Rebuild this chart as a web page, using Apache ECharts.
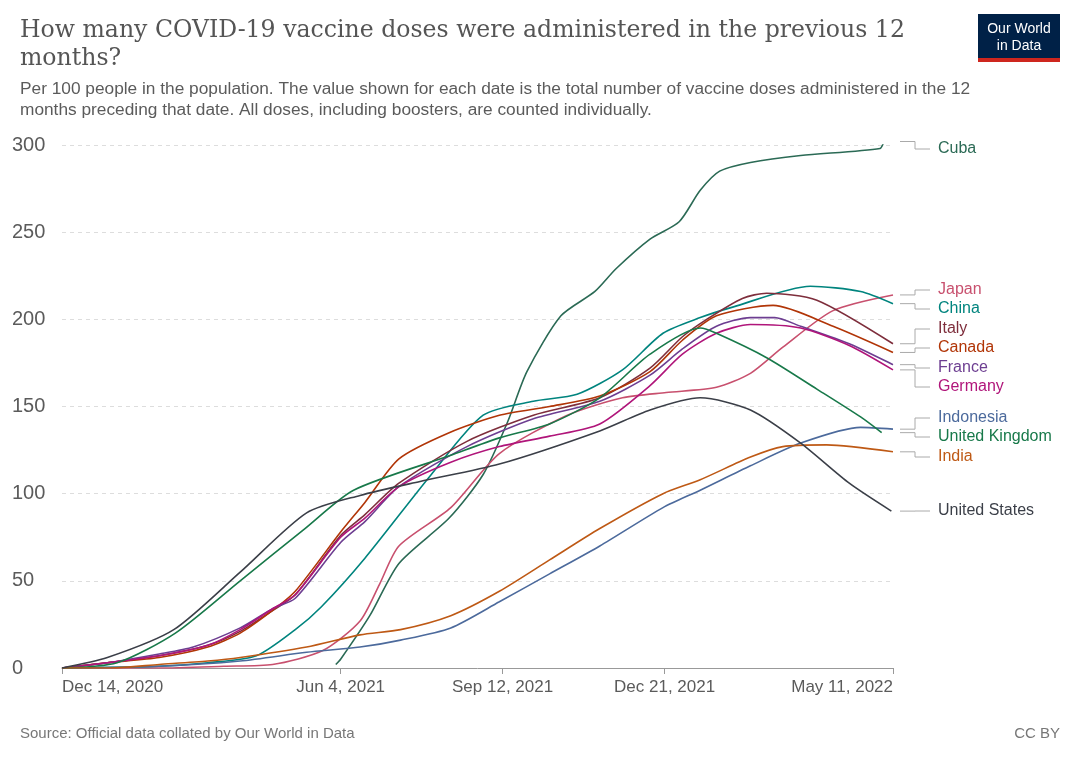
<!DOCTYPE html>
<html>
<head>
<meta charset="utf-8">
<script src="https://cdn.jsdelivr.net/npm/echarts@6/dist/echarts.min.js"></script>
<style>
  html, body { margin: 0; padding: 0; background: #fff; }
  #chart { width: 1080px; height: 762px; }
</style>
</head>
<body>
<div id="chart"></div>
<script>
// days since Dec 14, 2020 -> doses per 100 people in preceding 12 months
const countries = [
  { name: 'Cuba', color: '#2b6a55', labelY: 149, data: [[169,2],[172,5],[190,30],[208,60],[239,86],[260,111],[275,141],[287,170],[308,202],[329,216],[342,229],[363,246],[381,256],[394,274],[406,285],[425,290],[456,294],[505,298],[508,302],[513,302]] },
  { name: 'Japan', color: '#c8506e', labelY: 290, data: [[0,0],[60,0],[100,1],[130,2],[161,10],[184,27],[196,48],[208,70],[240,92],[270,123],[312,145],[346,155],[373,158],[404,161],[425,169],[445,184],[476,205],[513,214]] },
  { name: 'China', color: '#00847e', labelY: 309, data: [[0,0],[60,1],[90,3],[120,7],[144,22],[160,35],[187,63],[228,111],[260,145],[291,153],[318,157],[346,171],[371,192],[394,201],[414,207],[462,219],[493,216],[513,209]] },
  { name: 'Italy', color: '#7e2e3c', labelY: 329, data: [[0,0],[28,3],[60,7],[90,13],[110,21],[130,33],[144,42],[172,76],[187,88],[208,106],[250,130],[291,145],[332,155],[363,172],[383,190],[398,200],[420,212],[435,215],[466,211],[513,186]] },
  { name: 'Canada', color: '#b13507', labelY: 348, data: [[0,0],[28,3],[60,6],[90,12],[110,20],[130,33],[144,44],[172,78],[187,95],[208,120],[239,135],[270,145],[301,150],[332,156],[363,170],[383,188],[404,202],[439,208],[476,196],[513,181]] },
  { name: 'France', color: '#6d3e91', labelY: 368, data: [[0,0],[28,3],[60,8],[81,12],[110,23],[130,34],[144,40],[172,72],[187,84],[208,104],[250,127],[291,143],[332,153],[363,168],[383,183],[404,196],[425,201],[440,201],[456,196],[486,186],[513,174]] },
  { name: 'Germany', color: '#b0157a', labelY: 387, data: [[0,0],[28,3],[60,7],[90,13],[110,22],[130,34],[144,42],[172,75],[187,86],[208,104],[240,118],[270,127],[301,133],[332,140],[363,162],[383,180],[404,192],[425,197],[456,195],[486,185],[513,171]] },
  { name: 'Indonesia', color: '#4c6a9c', labelY: 418, data: [[0,0],[60,1],[110,4],[151,9],[184,12],[209,16],[240,23],[270,38],[301,54],[332,70],[371,92],[394,102],[425,116],[456,129],[493,138],[513,137]] },
  { name: 'United Kingdom', color: '#18794a', labelY: 437, data: [[0,0],[34,3],[70,20],[110,50],[150,80],[180,102],[240,122],[270,132],[301,140],[332,155],[363,180],[394,195],[404,192],[435,178],[466,160],[493,144],[506,135]] },
  { name: 'India', color: '#be5915', labelY: 457, data: [[0,0],[30,0],[60,2],[90,4],[110,6],[151,12],[184,19],[209,22],[240,30],[270,44],[301,62],[332,80],[371,100],[394,108],[425,121],[445,127],[472,128],[513,124]] },
  { name: 'United States', color: '#3b3f48', labelY: 511, data: [[0,0],[28,6],[69,22],[110,55],[151,89],[184,99],[221,107],[270,117],[332,136],[363,148],[394,155],[425,148],[456,129],[486,106],[512,90]] }
];
const tickDays = { 0: 'Dec 14, 2020', 172: 'Jun 4, 2021', 272: 'Sep 12, 2021', 372: 'Dec 21, 2021', 513: 'May 11, 2022' };
const sans = '"Liberation Sans", Arial, sans-serif';

const myChart = echarts.init(document.getElementById('chart'));
const option = {
  animation: false,
  textStyle: { fontFamily: sans },
  grid: { left: 62, right: 187, top: 145, bottom: 94 },
  xAxis: {
    type: 'value', min: 0, max: 513,
    axisLine: { lineStyle: { color: '#999' } },
    axisTick: { customValues: [0, 172, 272, 372, 513], length: 6, lineStyle: { color: '#999' } },
    axisLabel: { customValues: [0, 172, 272, 372, 513], formatter: v => tickDays[v] || '',
      color: '#5b5b5b', fontSize: 17, margin: 11, alignMinLabel: 'left', alignMaxLabel: 'right' },
    splitLine: { show: false }
  },
  yAxis: {
    type: 'value', min: 0, max: 300, interval: 50,
    axisLine: { show: false }, axisTick: { show: false },
    axisLabel: { color: '#5b5b5b', fontSize: 20, margin: 8, align: 'left', padding: [0, 0, 0, -42] },
    splitLine: { lineStyle: { color: '#ddd', type: [4, 4] } }
  },
  series: countries.map(c => ({
    name: c.name, type: 'line', smooth: 0.25, symbol: 'none',
    data: c.data, lineStyle: { color: c.color, width: 1.6 }, itemStyle: { color: c.color }
  }))
};
myChart.setOption(option);

// title, notes, logo and end labels with leader lines
const g = [
  { type: 'text', left: 20, top: 17, style: { text: 'How many COVID-19 vaccine doses were administered in the previous 12\nmonths?', font: '23.6px "DejaVu Serif", serif', fill: '#555', lineHeight: 28 } },
  { type: 'text', left: 20, top: 79, style: { text: 'Per 100 people in the population. The value shown for each date is the total number of vaccine doses administered in the 12\nmonths preceding that date. All doses, including boosters, are counted individually.', font: '17.3px ' + sans, fill: '#5b5b5b', lineHeight: 21 } },
  { type: 'rect', shape: { x: 978, y: 14, width: 82, height: 48 }, style: { fill: '#002147' } },
  { type: 'rect', shape: { x: 978, y: 58, width: 82, height: 4 }, style: { fill: '#ce261e' } },
  { type: 'text', x: 1019, y: 21, style: { text: 'Our World\nin Data', font: '14px ' + sans, fill: '#fff', align: 'center', lineHeight: 17 } },
  { type: 'text', left: 20, top: 726, style: { text: 'Source: Official data collated by Our World in Data', font: '15px ' + sans, fill: '#777' } },
  { type: 'text', right: 20, top: 726, style: { text: 'CC BY', font: '15px ' + sans, fill: '#777' } }
];
countries.forEach(c => {
  const last = c.data[c.data.length - 1];
  const p = myChart.convertToPixel({ gridIndex: 0 }, last);
  g.push({ type: 'polyline', shape: { points: [[900, p[1]], [915, p[1]], [915, c.labelY], [930, c.labelY]] }, style: { stroke: '#aaa', lineWidth: 1, fill: null } });
  g.push({ type: 'text', x: 938, y: c.labelY, style: { text: c.name, font: '16px ' + sans, fill: c.color, verticalAlign: 'middle' } });
});
myChart.setOption({ graphic: g });
</script>
</body>
</html>
